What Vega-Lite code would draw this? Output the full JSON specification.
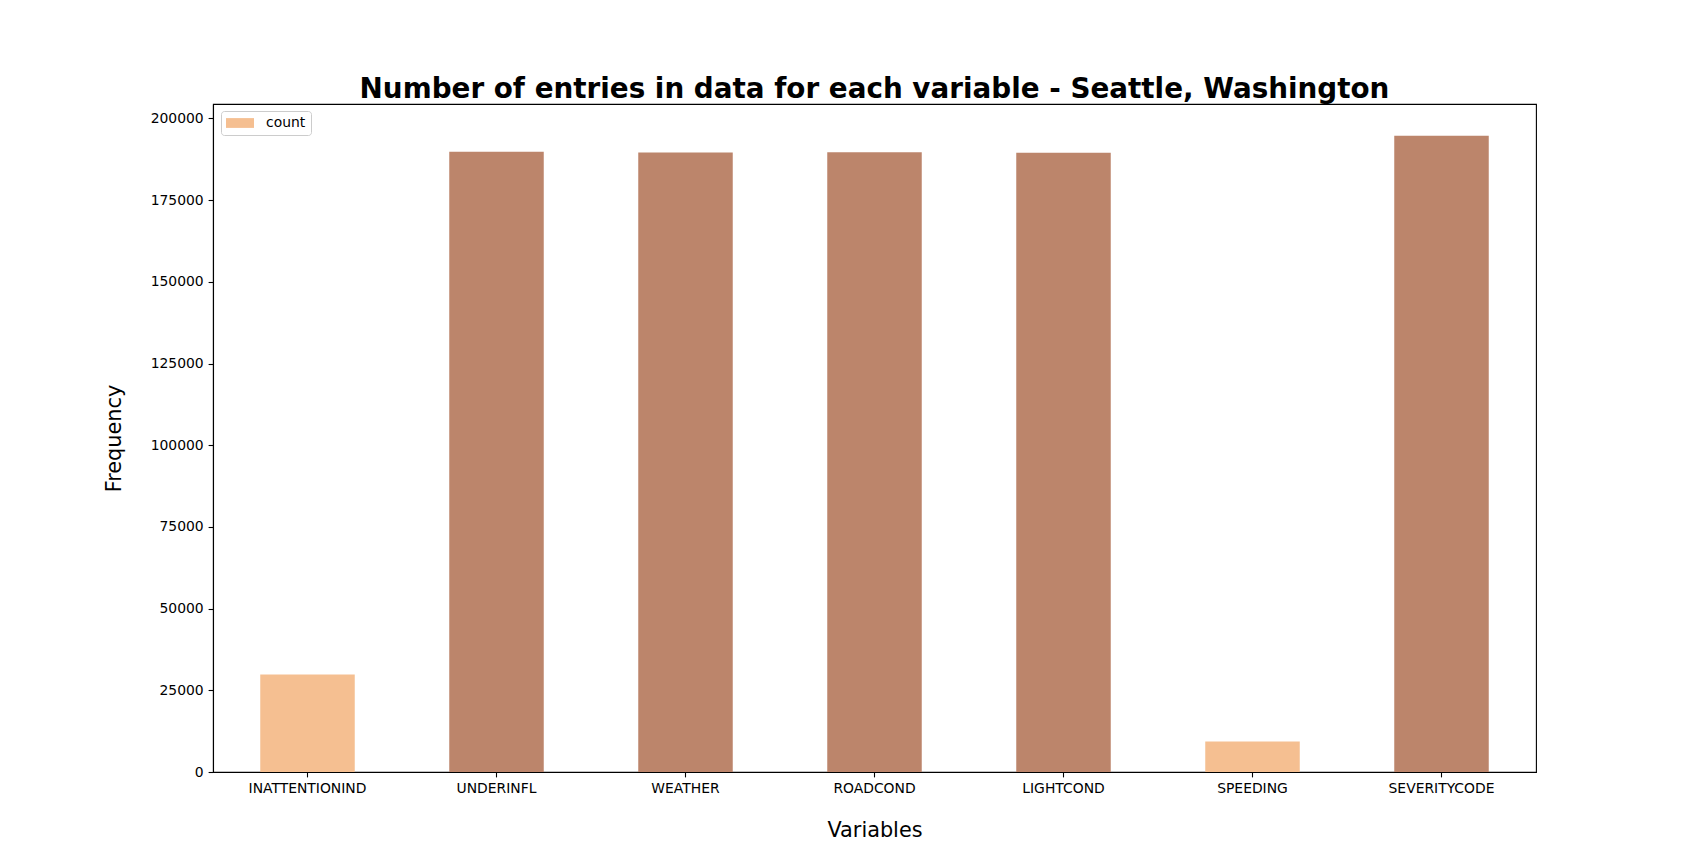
{
  "$schema": "https://vega.github.io/schema/vega-lite/v6.json",
  "width": 1323,
  "height": 668,
  "autosize": {"type": "none"},
  "padding": {"left": 213, "top": 104, "right": 171, "bottom": 95},
  "background": "white",
  "config": {
    "font": "DejaVu Sans",
    "view": {"stroke": "black", "strokeWidth": 1.1},
    "axis": {
      "domainColor": "black", "domainWidth": 1.1,
      "tickColor": "black", "tickWidth": 1.1, "tickSize": 4.9,
      "labelColor": "black", "labelFontSize": 13.9, "labelPadding": 4.9,
      "titleColor": "black", "titleFontSize": 20.8, "titleFontWeight": "normal",
      "grid": false
    }
  },
  "title": {
    "text": "Number of entries in data for each variable - Seattle, Washington",
    "fontSize": 27.8,
    "fontWeight": "bold",
    "color": "black",
    "anchor": "middle",
    "baseline": "alphabetic",
    "offset": -22
  },
  "data": {
    "values": [
      {"variable": "INATTENTIONIND", "count": 29805, "group": "partial"},
      {"variable": "UNDERINFL", "count": 189789, "group": "complete"},
      {"variable": "WEATHER", "count": 189592, "group": "complete"},
      {"variable": "ROADCOND", "count": 189661, "group": "complete"},
      {"variable": "LIGHTCOND", "count": 189503, "group": "complete"},
      {"variable": "SPEEDING", "count": 9333, "group": "partial"},
      {"variable": "SEVERITYCODE", "count": 194673, "group": "complete"}
    ]
  },
  "mark": {"type": "bar"},
  "encoding": {
    "x": {
      "field": "variable", "type": "nominal", "sort": null,
      "scale": {"paddingInner": 0.5, "paddingOuter": 0.25},
      "axis": {"labelAngle": 0, "title": "Variables", "titlePadding": 25}
    },
    "y": {
      "field": "count", "type": "quantitative",
      "scale": {"domain": [0, 204407], "nice": false, "zero": true},
      "axis": {"title": "Frequency", "values": [0, 25000, 50000, 75000, 100000, 125000, 150000, 175000, 200000], "format": "d", "titlePadding": 26}
    },
    "color": {
      "field": "group", "type": "nominal",
      "scale": {"domain": ["partial", "complete"], "range": ["#F5BF91", "#BC856B"]},
      "legend": {
        "values": ["partial"],
        "labelExpr": "'count'",
        "title": null,
        "orient": "none",
        "legendX": 8,
        "legendY": 7,
        "symbolType": "M-1,-0.7H3V0.7H-1Z",
        "symbolSize": 196,
        "symbolOpacity": 1,
        "symbolStrokeWidth": 0,
        "labelFontSize": 13.9,
        "labelColor": "black",
        "labelOffset": 26,
        "padding": 5,
        "strokeColor": "#cccccc",
        "fillColor": "white",
        "cornerRadius": 3
      }
    }
  }
}
